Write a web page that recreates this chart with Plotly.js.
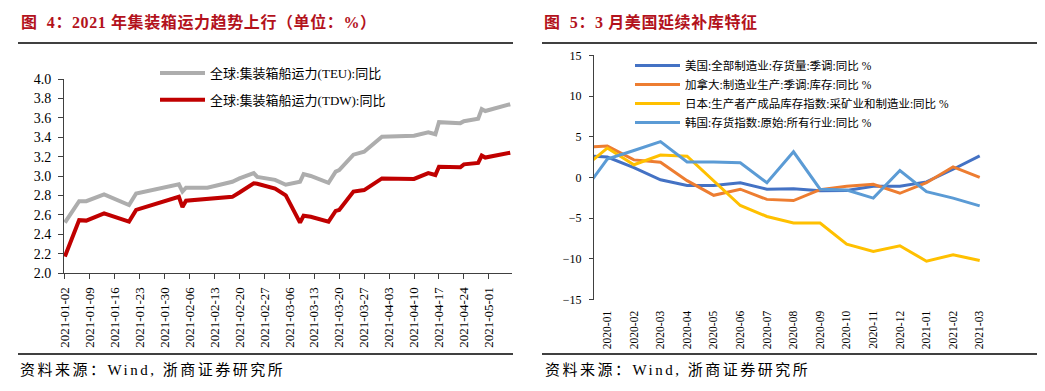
<!DOCTYPE html>
<html>
<head>
<meta charset="utf-8">
<script src="https://cdn.plot.ly/plotly-3.0.1.min.js"></script>
<style>html,body{margin:0;padding:0;background:#fff;}#chart{width:1045px;height:391px;}</style>
</head>
<body>
<div id="chart"></div>
<script>
// ---- Left chart data: global container ship capacity, YoY (%) ----
const capDates = ["2021-01-02","2021-01-06","2021-01-08","2021-01-13","2021-01-20","2021-01-22","2021-02-03","2021-02-04","2021-02-05","2021-02-11","2021-02-18","2021-02-20","2021-02-24","2021-02-25","2021-03-02","2021-03-05","2021-03-09","2021-03-10","2021-03-12","2021-03-17","2021-03-19","2021-03-20","2021-03-24","2021-03-27","2021-04-01","2021-04-10","2021-04-14","2021-04-16","2021-04-17","2021-04-23","2021-04-24","2021-04-28","2021-04-29","2021-04-30","2021-05-07"];
const teuYoY = [2.52,2.74,2.74,2.81,2.70,2.82,2.915,2.84,2.88,2.88,2.94,2.975,3.03,2.99,2.96,2.91,2.94,3.02,3.00,2.93,3.045,3.06,3.22,3.25,3.405,3.415,3.45,3.43,3.555,3.545,3.565,3.59,3.69,3.67,3.74];
const tdwYoY = [2.17,2.545,2.54,2.615,2.53,2.65,2.785,2.68,2.745,2.76,2.785,2.83,2.925,2.92,2.87,2.80,2.52,2.59,2.58,2.53,2.64,2.65,2.84,2.855,2.975,2.97,3.03,3.01,3.095,3.09,3.12,3.135,3.21,3.19,3.24];
const leftNames = ["全球:集装箱船运力(TEU):同比","全球:集装箱船运力(TDW):同比"];

// ---- Right chart data: inventories YoY (%) ----
const months = ["2019-12","2020-01","2020-02","2020-03","2020-04","2020-05","2020-06","2020-07","2020-08","2020-09","2020-10","2020-11","2020-12","2021-01","2021-02","2021-03"];
const usInv = [2.7,2.5,1.2,-0.3,-1.0,-1.0,-0.65,-1.45,-1.4,-1.65,-1.6,-1.1,-1.1,-0.55,1.0,2.65];
const caInv = [3.7,3.85,2.15,1.87,-0.4,-2.2,-1.45,-2.7,-2.85,-1.5,-1.1,-0.85,-1.95,-0.65,1.3,0.0];
const jpInv = [0.9,3.6,1.55,2.75,2.6,-0.4,-3.45,-4.8,-5.6,-5.6,-8.2,-9.1,-8.4,-10.3,-9.5,-10.2];
const krInv = [-2.2,2.25,3.3,4.4,1.9,1.9,1.8,-0.65,3.15,-1.45,-1.55,-2.55,0.85,-1.75,-2.55,-3.5];
const rightNames = ["美国:全部制造业:存货量:季调:同比 %","加拿大:制造业生产:季调:库存:同比 %","日本:生产者产成品库存指数:采矿业和制造业:同比 %","韩国:存货指数:原始:所有行业:同比 %"];

const titleLeft = "图\u00a0\u00a04：2021 年集装箱运力趋势上行（单位：%）";
const titleRight = "图\u00a0\u00a05：3 月美国延续补库特征";
const sourceText = "资料来源：Wind, 浙商证券研究所";

const W = 1045, H = 391;
const px = x => x / W;
const py = y => 1 - y / H;
const FONT = "'Liberation Serif', 'Noto Sans CJK SC', serif";
const RED_T = "#B3121C";
const AX = "#404040";

const traces = [
  {x: capDates, y: teuYoY, name: leftNames[0], type: "scatter", mode: "lines",
   line: {color: "#ADADAD", width: 4}, xaxis: "x", yaxis: "y", legend: "legend", legendgroup: "a"},
  {x: capDates, y: tdwYoY, name: leftNames[1], type: "scatter", mode: "lines",
   line: {color: "#C00000", width: 4}, xaxis: "x", yaxis: "y", legend: "legend", legendgroup: "b"},
  {x: months, y: usInv, name: rightNames[0], type: "scatter", mode: "lines",
   line: {color: "#4472C4", width: 3}, xaxis: "x2", yaxis: "y2", legend: "legend2"},
  {x: months, y: caInv, name: rightNames[1], type: "scatter", mode: "lines",
   line: {color: "#ED7D31", width: 3}, xaxis: "x2", yaxis: "y2", legend: "legend2"},
  {x: months, y: jpInv, name: rightNames[2], type: "scatter", mode: "lines",
   line: {color: "#FFC000", width: 3}, xaxis: "x2", yaxis: "y2", legend: "legend2"},
  {x: months, y: krInv, name: rightNames[3], type: "scatter", mode: "lines",
   line: {color: "#5B9BD5", width: 3}, xaxis: "x2", yaxis: "y2", legend: "legend2"}
];

const layout = {
  width: W, height: H,
  margin: {l: 0, r: 0, t: 0, b: 0},
  paper_bgcolor: "#fff", plot_bgcolor: "rgba(0,0,0,0)",
  font: {family: FONT, color: "#000"},
  showlegend: true,
  xaxis: {
    domain: [px(64), px(512)], anchor: "y", type: "date",
    range: ["2021-01-01 18:00", "2021-05-07 12:00"],
    tick0: "2021-01-02", dtick: 7 * 86400000, tickformat: "%Y-%m-%d", tickangle: -90,
    ticks: "outside", ticklen: 5, tickcolor: AX, showline: true, linecolor: AX, linewidth: 1,
    showgrid: false, zeroline: false, tickfont: {family: FONT, size: 13, color: "#000"},
    ticklabelstandoff: 3
  },
  yaxis: {
    domain: [py(273), py(79)], anchor: "x", range: [2, 4], tick0: 2, dtick: 0.2, tickformat: ".1f",
    ticks: "outside", ticklen: 5, tickcolor: AX, showline: true, linecolor: AX, linewidth: 1,
    showgrid: false, zeroline: false, tickfont: {family: FONT, size: 14, color: "#000"},
    ticklabelstandoff: 4
  },
  xaxis2: {
    domain: [px(594), px(993)], anchor: "y2", type: "category",
    categoryorder: "array", categoryarray: months, range: [0.5, 15.5],
    tickangle: -90, ticks: "", showline: false, showgrid: false, zeroline: false,
    tickfont: {family: FONT, size: 11.5, color: "#000"}, ticklabelstandoff: 8
  },
  xaxis3: {
    overlaying: "x2", anchor: "free", position: py(177.5), range: [0.5, 15.5],
    tick0: 0.5, dtick: 1, ticks: "inside", ticklen: 4, tickcolor: "#D9D9D9", tickwidth: 1,
    showline: true, linecolor: "#D9D9D9", linewidth: 1.5, showticklabels: false,
    showgrid: false, zeroline: false, layer: "below traces"
  },
  yaxis2: {
    domain: [py(299.5), py(55.3)], anchor: "x2", range: [-15, 15], tick0: -15, dtick: 5,
    ticks: "outside", ticklen: 4, tickcolor: AX, showline: true, linecolor: AX, linewidth: 1,
    showgrid: false, zeroline: false, tickfont: {family: FONT, size: 12, color: "#000"},
    ticklabelstandoff: 5
  },
  legend: {
    x: px(155), y: py(58), xanchor: "left", yanchor: "top", bgcolor: "rgba(0,0,0,0)",
    font: {family: FONT, size: 13, color: "#000"}, itemwidth: 45, tracegroupgap: 7,
    traceorder: "grouped", itemclick: false
  },
  legend2: {
    x: px(630), y: py(51), xanchor: "left", yanchor: "top", bgcolor: "rgba(0,0,0,0)",
    font: {family: FONT, size: 11.5, color: "#000"}, itemwidth: 45, tracegroupgap: 0,
    traceorder: "normal", itemclick: false
  },
  annotations: [
    {text: titleLeft, xref: "paper", yref: "paper", x: px(19), y: py(22), xanchor: "left", yanchor: "middle", align: "left",
     showarrow: false, font: {family: FONT, size: 16, color: RED_T, weight: "bold"}},
    {text: titleRight, xref: "paper", yref: "paper", x: px(542), y: py(22), xanchor: "left", yanchor: "middle", align: "left",
     showarrow: false, font: {family: FONT, size: 16, color: RED_T, weight: "bold"}},
    {text: sourceText, xref: "paper", yref: "paper", x: px(18), y: py(370), xanchor: "left", yanchor: "middle", align: "left",
     showarrow: false, font: {family: FONT, size: 15, color: "#000"}},
    {text: sourceText, xref: "paper", yref: "paper", x: px(543), y: py(370), xanchor: "left", yanchor: "middle", align: "left",
     showarrow: false, font: {family: FONT, size: 15, color: "#000"}}
  ],
  shapes: [
    {type: "line", xref: "paper", yref: "paper", x0: px(18), x1: px(513), y0: py(43), y1: py(43), line: {color: "#000", width: 1.5}},
    {type: "line", xref: "paper", yref: "paper", x0: px(18), x1: px(513), y0: py(354), y1: py(354), line: {color: "#000", width: 1.5}},
    {type: "line", xref: "paper", yref: "paper", x0: px(542), x1: px(1037), y0: py(43), y1: py(43), line: {color: "#000", width: 1.5}},
    {type: "line", xref: "paper", yref: "paper", x0: px(542), x1: px(1037), y0: py(354), y1: py(354), line: {color: "#000", width: 1.5}}
  ]
};

Plotly.newPlot("chart", traces, layout, {displayModeBar: false, staticPlot: true}).then(gd => {
  const texts = gd.querySelectorAll(".annotation-text");
  texts.forEach(t => {
    const s = t.textContent;
    t.setAttribute("text-anchor", "start");
    if (s === sourceText) t.style.letterSpacing = "2.5px";
    else t.style.letterSpacing = "0.6px";
  });
});
</script>
</body>
</html>
